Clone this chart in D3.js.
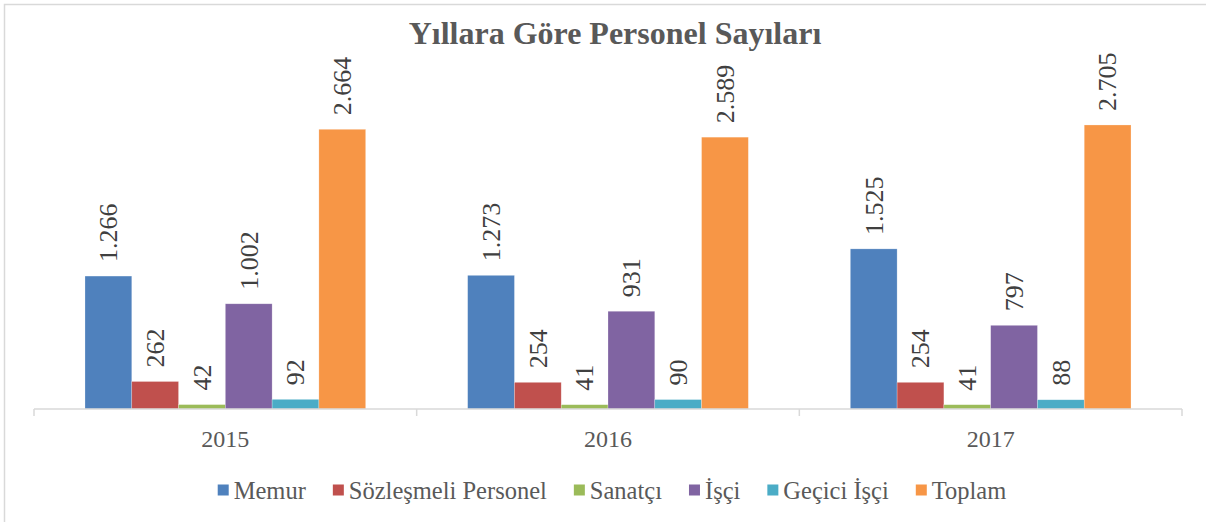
<!DOCTYPE html>
<html>
<head>
<meta charset="utf-8">
<script src="https://cdn.jsdelivr.net/npm/d3@7"></script>
<style>
  body { margin: 0; background: #fff; }
</style>
</head>
<body>
<div id="chart"></div>
<script>

// Data /////////////////////////////////////////

const years = ["2015", "2016", "2017"];
const series = ["Memur", "Sözleşmeli Personel", "Sanatçı", "İşçi", "Geçici İşçi", "Toplam"];
const colors = ["#4F81BD", "#C0504D", "#9BBB59", "#8064A2", "#4BACC6", "#F79646"];

const memur = [1266, 1273, 1525];
const sozlesmeli = [262, 254, 254];
const sanatci = [42, 41, 41];
const isci = [1002, 931, 797];
const geciciIsci = [92, 90, 88];
const toplam = [2664, 2589, 2705];

const values = [memur, sozlesmeli, sanatci, isci, geciciIsci, toplam];

const serif = "'Liberation Serif', 'Times New Roman', 'DejaVu Serif', serif";

// Chart ////////////////////////////////////////

const width = 1206, height = 522;
const margin = { left: 34, right: 24, top: 94, bottom: 113 };

const svg = d3.select("#chart").append("svg")
    .attr("width", width)
    .attr("height", height)
    .style("font-family", serif);

svg.append("rect")
    .attr("x", 4.5).attr("y", 4.5)
    .attr("width", width + 20).attr("height", height + 20)
    .attr("fill", "none")
    .attr("stroke", "#d9d9d9")
    .attr("stroke-width", 1.5);

svg.append("text")
    .attr("x", 615).attr("y", 44)
    .attr("text-anchor", "middle")
    .attr("font-family", serif)
    .attr("font-size", 32)
    .attr("font-weight", "bold")
    .attr("fill", "#595959")
    .text("Yıllara Göre Personel Sayıları");

const x0 = d3.scaleBand()
    .domain(years)
    .range([margin.left, width - margin.right])
    .padding(0);

const x1 = d3.scaleBand()
    .domain(series)
    .range([0, x0.bandwidth()])
    .paddingInner(0)
    .paddingOuter(1.09);

const y = d3.scaleLinear()
    .domain([0, 3000])
    .range([height - margin.bottom, margin.top]);

const data = [];
years.forEach((yr, i) => {
    series.forEach((s, j) => {
        data.push({ year: yr, series: s, color: colors[j], v: values[j][i] });
    });
});

const bars = svg.append("g").attr("class", "bars");

bars.selectAll("rect")
    .data(data)
    .join("rect")
    .attr("x", d => x0(d.year) + x1(d.series))
    .attr("y", d => y(d.v))
    .attr("width", x1.bandwidth())
    .attr("height", d => y(0) - y(d.v))
    .attr("fill", d => d.color)
    .attr("stroke", "#fff")
    .attr("stroke-opacity", 0.4)
    .attr("stroke-width", 0.6);

const fmt = v => d3.format(",")(v).replace(",", ".");

bars.selectAll("text")
    .data(data)
    .join("text")
    .attr("transform", d => {
        const cx = x0(d.year) + x1(d.series) + x1.bandwidth() / 2;
        return `translate(${cx}, ${y(d.v) - 14}) rotate(-90)`;
    })
    .attr("dy", "0.34em")
    .attr("font-family", serif)
    .attr("font-size", 26)
    .attr("fill", "#404040")
    .text(d => fmt(d.v));

// Axis /////////////////////////////////////////

const axisY = y(0);
const axis = svg.append("g");

axis.append("line")
    .attr("x1", margin.left).attr("x2", width - margin.right)
    .attr("y1", axisY).attr("y2", axisY)
    .attr("stroke", "#d9d9d9").attr("stroke-width", 1.5);

const tickXs = years.map(yr => x0(yr)).concat([x0(years[years.length - 1]) + x0.bandwidth()]);
axis.selectAll(".tick")
    .data(tickXs)
    .join("line")
    .attr("x1", d => d).attr("x2", d => d)
    .attr("y1", axisY).attr("y2", axisY + 7)
    .attr("stroke", "#d9d9d9").attr("stroke-width", 1.5);

axis.selectAll(".year-label")
    .data(years)
    .join("text")
    .attr("x", d => x0(d) + x0.bandwidth() / 2)
    .attr("y", 447)
    .attr("text-anchor", "middle")
    .attr("font-family", serif)
    .attr("font-size", 24)
    .attr("fill", "#595959")
    .text(d => d);

// Legend ///////////////////////////////////////

const legend = svg.append("g");
const items = legend.selectAll("g")
    .data(series)
    .join("g");

items.append("rect")
    .attr("width", 11).attr("height", 11)
    .attr("y", -5.5)
    .attr("fill", (d, i) => colors[i]);

items.append("text")
    .attr("x", 16)
    .attr("dy", "0.35em")
    .attr("font-family", serif)
    .attr("font-size", 24.5)
    .attr("fill", "#595959")
    .text(d => d);

let pos = 0;
items.each(function() {
    const g = d3.select(this);
    g.attr("transform", `translate(${pos}, 0)`);
    pos += 16 + g.select("text").node().getComputedTextLength() + 27;
});
const total = pos - 27;
legend.attr("transform", `translate(${612 - total / 2}, 490)`);

</script>
</body>
</html>
